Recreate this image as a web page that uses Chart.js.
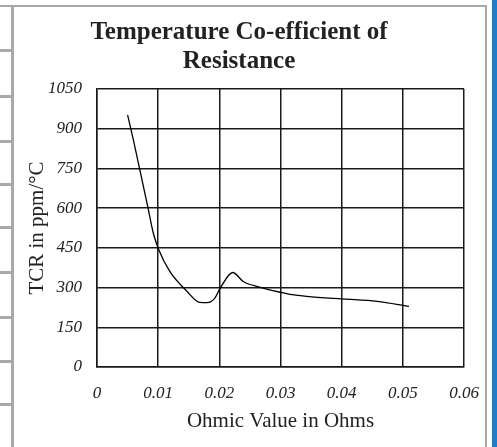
<!DOCTYPE html>
<html>
<head>
<meta charset="utf-8">
<script src="https://cdn.jsdelivr.net/npm/chart.js@4"></script>
<style>
  html, body { margin: 0; padding: 0; background: #fff; }
  #page { position: relative; width: 497px; height: 447px; overflow: hidden; }
  .rule { position: absolute; background: #a6a8aa; }
  #blue { position: absolute; left: 492px; top: 0; width: 5px; height: 447px; background: #1c7ec8; }
  canvas { position: absolute; left: 0; top: 0; }
</style>
</head>
<body>
<div id="page">
  <div class="rule" style="left:0;top:5px;width:487px;height:2px"></div>
  <div class="rule" style="left:11px;top:5px;width:3px;height:442px"></div>
  <div class="rule" style="left:485px;top:5px;width:2px;height:442px"></div>
  <div id="blue"></div>
  <canvas id="tcrChart" width="497" height="447"></canvas>
</div>
<script>
const ohms = [0.005, 0.006, 0.007, 0.0084, 0.0092, 0.0101, 0.0119, 0.0147, 0.0168, 0.018, 0.0192, 0.0201, 0.0222, 0.0239, 0.0267, 0.03, 0.0319, 0.0343, 0.0401, 0.0458, 0.051];
const tcr = [952, 852, 745, 594, 506, 443, 361, 286, 244, 243, 258, 296, 357, 323, 301, 282, 273, 267, 257, 248, 229];
const titleLines = ["Temperature Co-efficient of", "Resistance"];

// little grey stubs on the left edge of the page
const stubRows = [49, 95, 140, 183, 226, 271, 316, 360, 403];
const page = document.getElementById("page");
stubRows.forEach((y) => {
  const d = document.createElement("div");
  d.className = "rule";
  d.style.cssText = `left:0;top:${y}px;width:12px;height:3px`;
  page.appendChild(d);
});

const serif = "'Liberation Serif', 'Times New Roman', serif";
const gridColor = "#1a1a1a";

new Chart(document.getElementById("tcrChart"), {
  type: "line",
  data: {
    datasets: [
      {
        data: ohms.map((x, i) => ({ x, y: tcr[i] })),
        borderColor: "#000",
        borderWidth: 1.3,
        pointRadius: 0,
        cubicInterpolationMode: "monotone",
        fill: false,
      },
    ],
  },
  options: {
    responsive: false,
    animation: false,
    layout: { padding: { left: 14, right: 33, top: 0, bottom: 0 } },
    plugins: {
      legend: { display: false },
      tooltip: { enabled: false },
      title: {
        display: true,
        text: titleLines,
        color: "#222",
        font: { family: serif, size: 25, weight: "bold", lineHeight: "29px" },
        padding: { top: 18, bottom: 13 },
      },
    },
    scales: {
      x: {
        type: "linear",
        min: 0,
        max: 0.06,
        afterFit: (scale) => { scale.height = 80; },
        border: { color: gridColor, width: 1.5 },
        grid: { color: gridColor, lineWidth: 1.5, drawTicks: false },
        ticks: {
          stepSize: 0.01,
          padding: 16,
          color: "#222",
          font: { family: serif, size: 17, style: "italic" },
          callback: (v) => String(Number(v.toFixed(2))),
        },
        title: {
          display: true,
          text: "Ohmic Value in Ohms",
          color: "#222",
          font: { family: serif, size: 21 },
          padding: { top: 4, bottom: 13 },
        },
      },
      y: {
        min: 0,
        max: 1050,
        afterFit: (scale) => { scale.width = 83; },
        border: { color: gridColor, width: 1.5 },
        grid: { color: gridColor, lineWidth: 1.5, drawTicks: false },
        ticks: {
          stepSize: 150,
          padding: 15,
          color: "#222",
          font: { family: serif, size: 17, style: "italic" },
          callback: (v) => String(v),
        },
        title: {
          display: true,
          text: "TCR in ppm/°C",
          color: "#222",
          font: { family: serif, size: 21 },
          padding: { top: 11, bottom: 0 },
        },
      },
    },
  },
});
</script>
</body>
</html>
